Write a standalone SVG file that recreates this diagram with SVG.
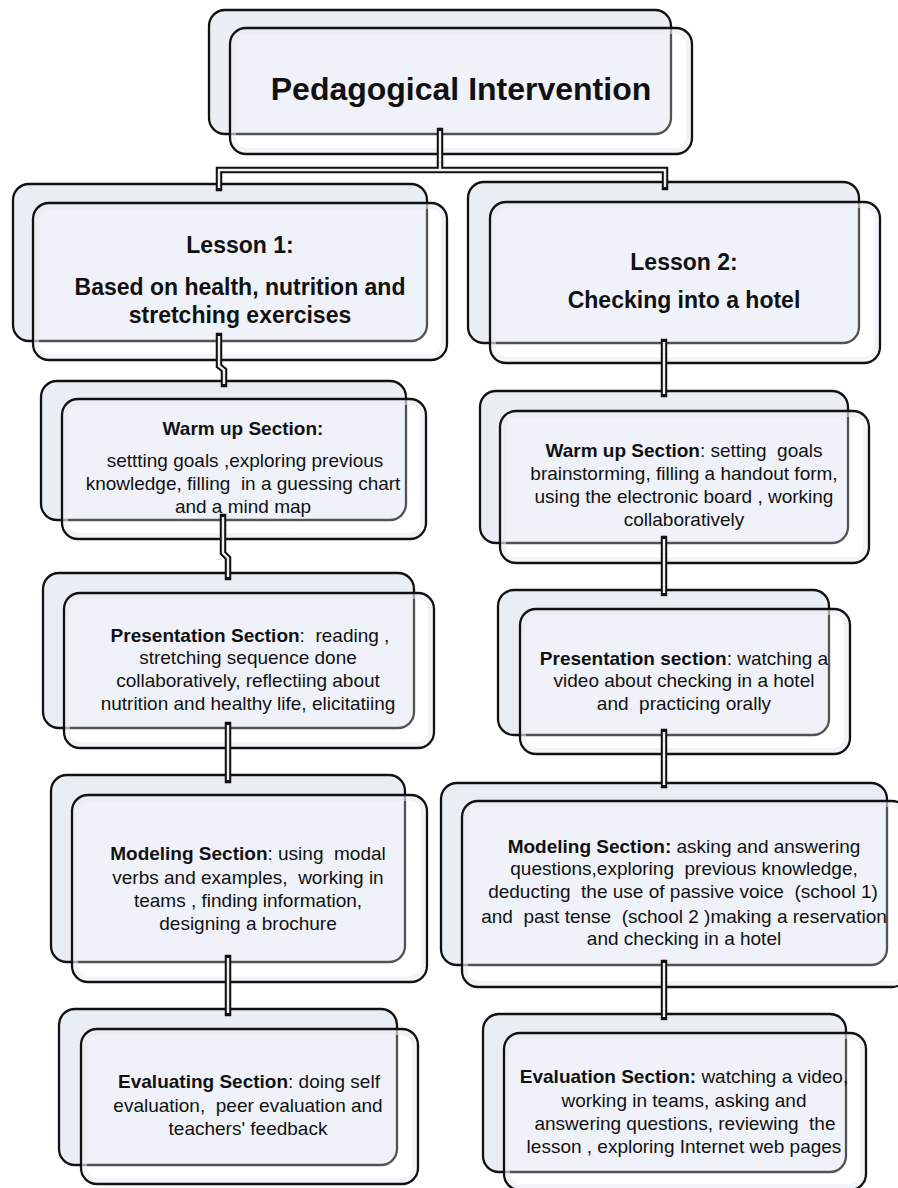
<svg xmlns="http://www.w3.org/2000/svg" width="898" height="1188" viewBox="0 0 898 1188">
<style>
.back{fill:#e9eef5;stroke:#111;stroke-width:2.3}
.front{fill:#ffffff;fill-opacity:0.28;stroke:#111;stroke-width:2.3}
.glow{fill:none;stroke:#dfe6ef;stroke-width:5;stroke-opacity:0.55}
.co{fill:none;stroke:#111;stroke-width:6.5;stroke-linecap:square;stroke-linejoin:miter}
.ci{fill:none;stroke:#f0f0f0;stroke-width:2.4;stroke-linecap:butt;stroke-linejoin:miter}
text{font-family:"Liberation Sans",Arial,sans-serif;fill:#111;text-anchor:middle;white-space:pre}
.title{font-size:32px;font-weight:bold}
.lesson{font-size:23px;font-weight:bold}
.body{font-size:19px}
.b{font-weight:bold}
</style>
<rect width="898" height="1188" fill="#fff"/>

<g id="node-top">
<rect class="back" x="209" y="10" width="462" height="124" rx="16"/>
<rect class="glow" x="233.5" y="31.5" width="455" height="119" rx="13"/>
<rect class="front" x="230" y="28" width="462" height="126" rx="16"/>
<text class="title" x="461" y="100">Pedagogical Intervention</text>
</g>

<g id="node-lesson1">
<rect class="back" x="13" y="184" width="414" height="157" rx="16"/>
<rect class="glow" x="36.5" y="206.5" width="407" height="150" rx="13"/>
<rect class="front" x="33" y="203" width="414" height="157" rx="16"/>
<text class="lesson" x="240" y="253">Lesson 1:</text>
<text class="lesson" x="240" y="295">Based on health, nutrition and</text>
<text class="lesson" x="240" y="323">stretching exercises</text>
</g>

<g id="node-lesson2">
<rect class="back" x="468" y="182" width="391" height="161" rx="16"/>
<rect class="glow" x="493.5" y="205.5" width="383" height="154" rx="13"/>
<rect class="front" x="490" y="202" width="390" height="161" rx="16"/>
<text class="lesson" x="684" y="270">Lesson 2:</text>
<text class="lesson" x="684" y="308">Checking into a hotel</text>
</g>

<g id="node-warm1">
<rect class="back" x="41" y="381" width="365" height="139" rx="16"/>
<rect class="glow" x="65.5" y="402.5" width="357" height="133" rx="13"/>
<rect class="front" x="62" y="399" width="364" height="140" rx="16"/>
<text class="body b" x="243" y="435">Warm up Section:</text>
<text class="body" x="245" y="467">settting goals ,exploring previous</text>
<text class="body" x="243" y="490">knowledge, filling  in a guessing chart</text>
<text class="body" x="243" y="513">and a mind map</text>
</g>

<g id="node-warm2">
<rect class="back" x="480" y="391" width="368" height="152" rx="16"/>
<rect class="glow" x="503.5" y="414.5" width="362" height="145" rx="13"/>
<rect class="front" x="500" y="411" width="369" height="152" rx="16"/>
<text class="body" x="684" y="457"><tspan class="b">Warm up Section</tspan>: setting  goals</text>
<text class="body" x="684" y="480">brainstorming, filling a handout form,</text>
<text class="body" x="684" y="503">using the electronic board , working</text>
<text class="body" x="684" y="526">collaboratively</text>
</g>

<g id="node-pres1">
<rect class="back" x="43" y="573" width="371" height="155" rx="16"/>
<rect class="glow" x="67.5" y="596.5" width="363" height="148" rx="13"/>
<rect class="front" x="64" y="593" width="370" height="155" rx="16"/>
<text class="body" x="250" y="642"><tspan class="b">Presentation Section</tspan>:  reading ,</text>
<text class="body" x="248" y="664">stretching sequence done</text>
<text class="body" x="248" y="687">collaboratively, reflectiing about</text>
<text class="body" x="248" y="710">nutrition and healthy life, elicitatiing</text>
</g>

<g id="node-pres2">
<rect class="back" x="498" y="590" width="331" height="145" rx="16"/>
<rect class="glow" x="523.5" y="612.5" width="323" height="138" rx="13"/>
<rect class="front" x="520" y="609" width="330" height="145" rx="16"/>
<text class="body" x="684" y="665"><tspan class="b">Presentation section</tspan>: watching a</text>
<text class="body" x="684" y="687">video about checking in a hotel</text>
<text class="body" x="684" y="710">and  practicing orally</text>
</g>

<g id="node-mod1">
<rect class="back" x="51" y="775" width="354" height="187" rx="16"/>
<rect class="glow" x="75.5" y="798.5" width="348" height="180" rx="13"/>
<rect class="front" x="72" y="795" width="355" height="187" rx="16"/>
<text class="body" x="248" y="860"><tspan class="b">Modeling Section</tspan>: using  modal</text>
<text class="body" x="248" y="884">verbs and examples,  working in</text>
<text class="body" x="248" y="907">teams , finding information,</text>
<text class="body" x="248" y="930">designing a brochure</text>
</g>

<g id="node-mod2">
<rect class="back" x="441" y="783" width="446" height="182" rx="16"/>
<rect class="glow" x="465.5" y="804.5" width="439" height="179" rx="13"/>
<rect class="front" x="462" y="801" width="446" height="186" rx="16"/>
<text class="body" x="684" y="853"><tspan class="b">Modeling Section:</tspan> asking and answering</text>
<text class="body" x="684" y="875">questions,exploring  previous knowledge,</text>
<text class="body" x="683" y="898">deducting  the use of passive voice  (school 1)</text>
<text class="body" x="684" y="923">and  past tense  (school 2 )making a reservation</text>
<text class="body" x="684" y="945">and checking in a hotel</text>
</g>

<g id="node-eval1">
<rect class="back" x="59" y="1009" width="338" height="156" rx="16"/>
<rect class="glow" x="84.5" y="1032.5" width="330" height="148" rx="13"/>
<rect class="front" x="81" y="1029" width="337" height="155" rx="16"/>
<text class="body" x="249" y="1088"><tspan class="b">Evaluating Section</tspan>: doing self</text>
<text class="body" x="248" y="1112">evaluation,  peer evaluation and</text>
<text class="body" x="248" y="1135">teachers' feedback</text>
</g>

<g id="node-eval2">
<rect class="back" x="483" y="1014" width="363" height="158" rx="16"/>
<rect class="glow" x="507.5" y="1036.5" width="355" height="150" rx="13"/>
<rect class="front" x="504" y="1033" width="362" height="157" rx="16"/>
<text class="body" x="684" y="1083"><tspan class="b">Evaluation Section:</tspan> watching a video,</text>
<text class="body" x="684" y="1107">working in teams, asking and</text>
<text class="body" x="685" y="1130">answering questions, reviewing  the</text>
<text class="body" x="684" y="1153">lesson , exploring Internet web pages</text>
</g>

<g id="connectors">
<path class="co" d="M219,188 V170 H665 V187 M440,131 V170"/>
<path class="co" d="M219,336 V366 L224,370 V384"/>
<path class="co" d="M664,342 V394"/>
<path class="co" d="M223,517 V553 L228,558 V577"/>
<path class="co" d="M664,539 V593"/>
<path class="co" d="M228,725 V780"/>
<path class="co" d="M664,732 V785"/>
<path class="co" d="M228,958 V1013"/>
<path class="co" d="M664,963 V1017"/>
<path class="ci" d="M219,188 V170 H665 V187 M440,131 V170"/>
<path class="ci" d="M219,336 V366 L224,370 V384"/>
<path class="ci" d="M664,342 V394"/>
<path class="ci" d="M223,517 V553 L228,558 V577"/>
<path class="ci" d="M664,539 V593"/>
<path class="ci" d="M228,725 V780"/>
<path class="ci" d="M664,732 V785"/>
<path class="ci" d="M228,958 V1013"/>
<path class="ci" d="M664,963 V1017"/>
</g>
</svg>
